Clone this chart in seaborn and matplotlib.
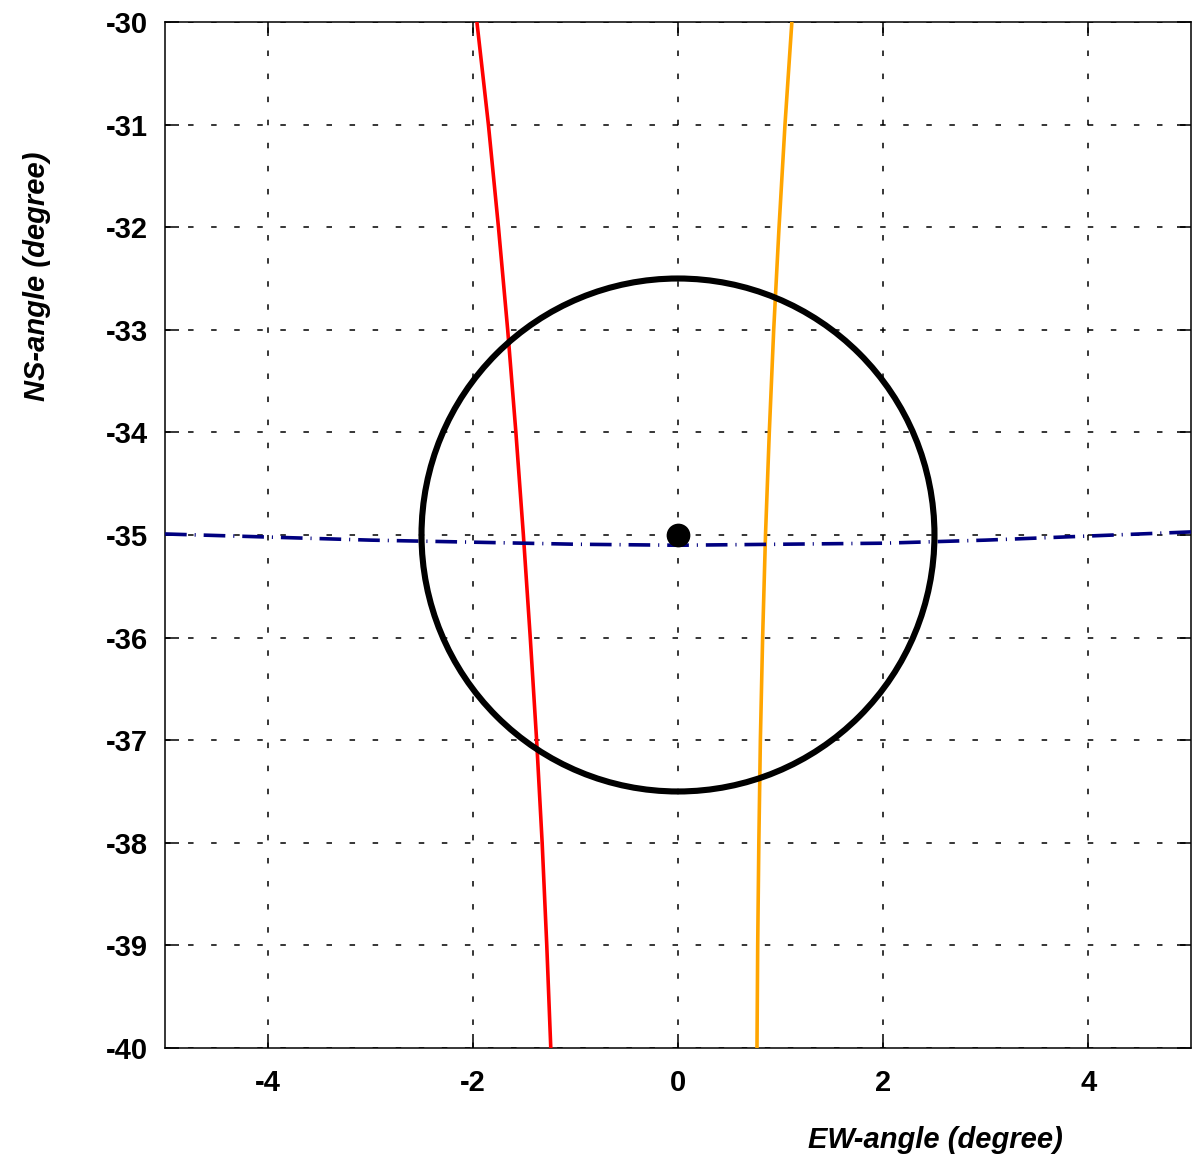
import matplotlib
matplotlib.use("Agg")
import matplotlib.pyplot as plt
from matplotlib.patches import Circle
import seaborn as sns
import pandas as pd

# ---- data ----
ns_levels = [-30, -31, -32, -33, -34, -35, -36, -37, -38, -39, -40]
red_ew = [-1.96, -1.848, -1.75, -1.66, -1.58, -1.507, -1.44, -1.378, -1.324, -1.279, -1.24]
orange_ew = [1.11, 1.043, 0.985, 0.933, 0.89, 0.853, 0.825, 0.803, 0.788, 0.777, 0.77]

blue_ew = [-5, -4, -3, -2, -1, 0, 1, 2, 3, 4, 5]
blue_ns = [-34.99, -35.02, -35.05, -35.07, -35.09, -35.10, -35.09, -35.08, -35.05, -35.01, -34.97]

center_ew = [0.0]
center_ns = [-35.0]
circle_radius = 2.5

x_ticks = [-4, -2, 0, 2, 4]
y_ticks = [-30, -31, -32, -33, -34, -35, -36, -37, -38, -39, -40]
x_label = "EW-angle (degree)"
y_label = "NS-angle (degree)"

# ---- style ----
sns.set_style("white")
plt.rcParams['font.family'] = ['Liberation Sans', 'DejaVu Sans']

fig = plt.figure(figsize=(12.02, 11.59), dpi=100)
ax = fig.add_axes([0.1373, 0.0958, 0.8535, 0.8852])

red_df = pd.DataFrame({"ew": red_ew, "ns": ns_levels})
orange_df = pd.DataFrame({"ew": orange_ew, "ns": ns_levels})
blue_df = pd.DataFrame({"ew": blue_ew, "ns": blue_ns})
center_df = pd.DataFrame({"ew": center_ew, "ns": center_ns})

sns.lineplot(data=red_df, x="ew", y="ns", sort=False, estimator=None,
             color="#FF0000", lw=2.6, ax=ax, zorder=4)
sns.lineplot(data=orange_df, x="ew", y="ns", sort=False, estimator=None,
             color="#FFA500", lw=2.6, ax=ax, zorder=4)
sns.lineplot(data=blue_df, x="ew", y="ns", sort=False, estimator=None,
             color="#000080", lw=2.6, ax=ax, zorder=4,
             dashes=False)
ax.lines[-1].set_linestyle((0, (6, 2.2, 0.3, 2.2)))

ax.add_patch(Circle((center_ew[0], center_ns[0]), circle_radius, fill=False,
                    edgecolor="black", lw=4.4, zorder=5))
sns.scatterplot(data=center_df, x="ew", y="ns", s=250, color="black",
                edgecolor="black", ax=ax, zorder=6)

ax.set_xlim(-5, 5)
ax.set_ylim(-40, -30)
ax.set_xticks(x_ticks)
ax.set_yticks(y_ticks)
ax.set_xticklabels([str(t) for t in x_ticks])
ax.set_yticklabels([str(t) for t in y_ticks])

ax.grid(True, color="black", lw=1.1, linestyle=(0, (3.6, 11.5)))
ax.set_axisbelow(True)

for s in ax.spines.values():
    s.set_visible(True)
    s.set_color("black")
    s.set_linewidth(1.1)

ax.tick_params(direction="in", length=10, width=1.1, color="black",
               top=True, right=True, bottom=True, left=True,
               labelsize=21, labelcolor="black")
ax.tick_params(axis="x", pad=15)
ax.tick_params(axis="y", pad=12)
for lab in ax.get_xticklabels() + ax.get_yticklabels():
    lab.set_fontweight("bold")

ax.set_xlabel(x_label, fontsize=21, fontweight="bold", fontstyle="italic",
              va="center", ha="center", color="black")
ax.set_ylabel(y_label, fontsize=21, fontweight="bold", fontstyle="italic",
              va="center", ha="center", color="black")
ax.xaxis.set_label_coords(0.751, -0.0897)
ax.yaxis.set_label_coords(-0.125, 0.752)

fig.savefig("out.png", dpi=100)
